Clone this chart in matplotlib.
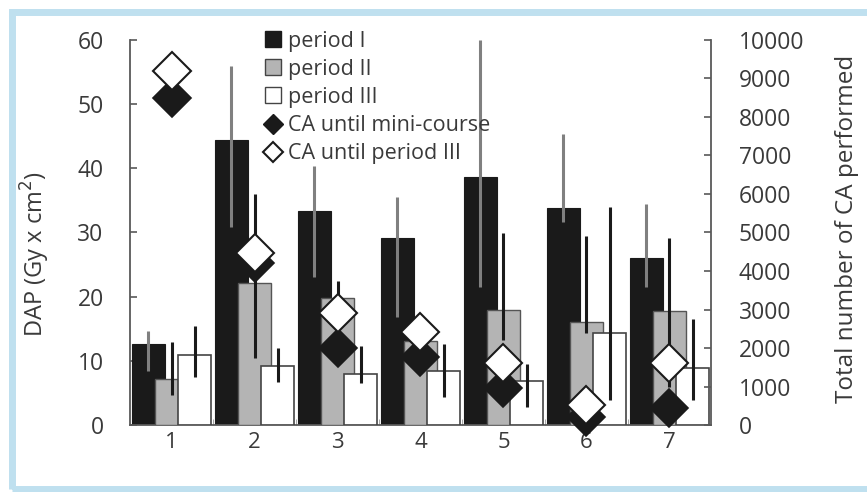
import numpy as np
import matplotlib.pyplot as plt
from matplotlib.lines import Line2D
from matplotlib.patches import Rectangle

# values
groups = ['1', '2', '3', '4', '5', '6', '7']
period1 = [12.6, 44.4, 33.3, 29.2, 38.7, 33.8, 26.0]
period1_hi = [14.7, 56.0, 40.3, 35.6, 60.0, 45.3, 34.4]
period1_lo = [8.4, 30.8, 23.0, 16.8, 21.5, 31.7, 21.5]
period2 = [7.2, 22.1, 19.8, 13.1, 17.9, 16.0, 17.8]
period2_hi = [12.9, 36.0, 22.5, 14.5, 29.9, 29.5, 29.2]
period2_lo = [4.7, 10.4, 17.0, 11.5, 13.2, 14.3, 6.0]
period3 = [10.9, 9.2, 7.9, 8.4, 6.8, 14.3, 8.9]
period3_hi = [15.4, 12.0, 12.3, 12.7, 9.5, 34.0, 16.5]
period3_lo = [7.5, 6.7, 6.5, 4.4, 2.8, 3.9, 3.9]
ca_mini = [8500, 4200, 2000, 1770, 960, 200, 440]
ca_p3 = [9200, 4460, 2900, 2420, 1600, 520, 1600]

plt.rcParams['font.family'] = ['Open Sans', 'DejaVu Sans']
txt = '#3a3a3a'
axc = '#595959'

fig = plt.figure(figsize=(8.67, 4.92), dpi=100)
ax = fig.add_axes([0.15, 0.136, 0.67, 0.783])
x = np.arange(1, len(groups) + 1)
w = 0.4
off = 0.28


def yerr(v, lo, hi):
    v = np.array(v)
    return np.array([v - np.array(lo), np.array(hi) - v])


ax.bar(x - off, period1, w, color='#1a1a1a', edgecolor='#1a1a1a', lw=0.8, zorder=2)
ax.errorbar(x - off, period1, yerr=yerr(period1, period1_lo, period1_hi),
            fmt='none', ecolor='#808080', elinewidth=2.2, capsize=0, zorder=2.1)
ax.bar(x, period2, w, color='#b4b4b4', edgecolor='#555555', lw=1.0, zorder=3)
ax.errorbar(x, period2, yerr=yerr(period2, period2_lo, period2_hi),
            fmt='none', ecolor='#1a1a1a', elinewidth=2.2, capsize=0, zorder=3.1)
ax.bar(x + off, period3, w, color='white', edgecolor='#444444', lw=1.2, zorder=4)
ax.errorbar(x + off, period3, yerr=yerr(period3, period3_lo, period3_hi),
            fmt='none', ecolor='#1a1a1a', elinewidth=2.2, capsize=0, zorder=4.1)

ax.set_xlim(0.5, 7.5)
ax.set_ylim(0, 60)
ax.set_yticks(range(0, 61, 10))
ax.set_xticks(x)
ax.set_xticklabels(groups)
ax.set_xticks(np.arange(1.5, 7.5, 1), minor=True)
ax.tick_params(axis='x', which='major', length=0, pad=5, labelsize=16, labelcolor=txt)
ax.tick_params(axis='x', which='minor', length=4, direction='in', color='#999999')
ax.tick_params(axis='y', direction='in', length=5, width=1.2, color=axc,
               labelsize=16.5, labelcolor=txt, pad=19)
ax.set_ylabel('DAP (Gy x cm$^2$)', fontsize=17, color=txt)
ax.yaxis.set_label_coords(-0.134, 0.445)
ax.spines['top'].set_visible(False)
ax.spines['right'].set_visible(False)
for s in ('left', 'bottom'):
    ax.spines[s].set_color(axc)
    ax.spines[s].set_linewidth(1.3)

ax2 = ax.twinx()
ax2.plot(x, ca_mini, ls='none', marker='D', ms=19, mfc='#1a1a1a', mec='#1a1a1a', mew=1.2,
         clip_on=False)
ax2.plot(x, ca_p3, ls='none', marker='D', ms=19, mfc='white', mec='#1a1a1a', mew=1.5,
         clip_on=False)
ax2.set_ylim(0, 10000)
ax2.set_yticks(range(0, 10001, 1000))
ax2.tick_params(axis='y', direction='in', length=5, width=1.2, color=axc,
                labelsize=16.5, labelcolor=txt, pad=20)
ax2.set_ylabel('Total number of CA performed', fontsize=17.5, color=txt)
ax2.yaxis.set_label_coords(1.213, 0.51)
ax2.spines['top'].set_visible(False)
ax2.spines['left'].set_visible(False)
ax2.spines['bottom'].set_visible(False)
ax2.spines['right'].set_color(axc)
ax2.spines['right'].set_linewidth(1.3)

handles = [
    Line2D([], [], ls='none', marker='s', ms=12, mfc='#1a1a1a', mec='#1a1a1a'),
    Line2D([], [], ls='none', marker='s', ms=12, mfc='#b4b4b4', mec='#444444'),
    Line2D([], [], ls='none', marker='s', ms=12, mfc='white', mec='#444444'),
    Line2D([], [], ls='none', marker='D', ms=10, mfc='#1a1a1a', mec='#1a1a1a'),
    Line2D([], [], ls='none', marker='D', ms=10, mfc='white', mec='#1a1a1a', mew=1.5),
]
labels = ['period I', 'period II', 'period III', 'CA until mini-course', 'CA until period III']
leg = ax2.legend(handles, labels, loc='upper left', bbox_to_anchor=(254 / 867, 1 - 20 / 492),
                 bbox_transform=fig.transFigure, frameon=False, fontsize=15.5,
                 handlelength=0.8, handletextpad=0.3, labelspacing=0.33, borderpad=0)
for t in leg.get_texts():
    t.set_color(txt)

# light blue frame around the figure
fig.patches.append(Rectangle((12 / 867, 3 / 492), 1.0, 477 / 492, transform=fig.transFigure,
                             fill=False, edgecolor='#bfe0ef', lw=5, zorder=0))

fig.savefig('out.png', dpi=100)
